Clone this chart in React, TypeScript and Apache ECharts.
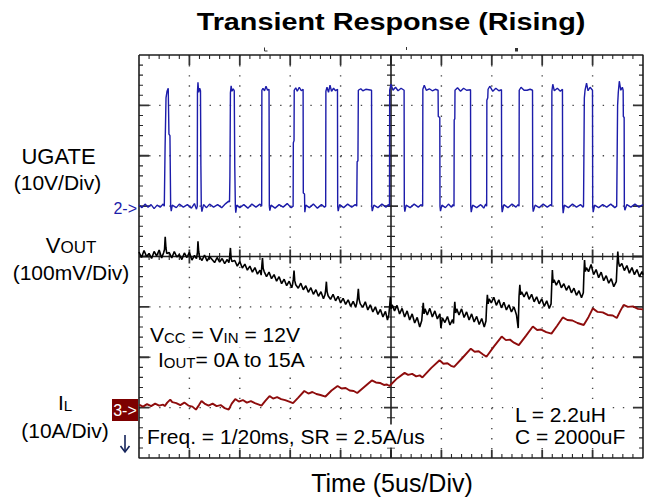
import React, { useEffect, useRef } from "react";
import * as echarts from "echarts";

// ---------- chart data ----------
// Time axis (us), trigger at the centre of the screen, 5 us per division
const timeMin = -25;
const timeMax = 25;
const timeStep = 5;
// Vertical graticule in divisions
const divMin = -4;
const divMax = 4;
const majorTimeTicks = [-25, -20, -15, -10, -5, 0, 5, 10, 15, 20, 25];
const majorDivTicks = [-4, -3, -2, -1, 0, 1, 2, 3, 4];
const minorPerMajor = 5;

// Channel scales: units per division and ground-marker position (in divisions)
const ugatePerDiv = 10; // V
const ugateZeroDiv = 1;
const voutPerDiv = 100; // mV (AC coupled, centred)
const voutZeroDiv = 0;
const ilPerDiv = 10; // A
const ilZeroDiv = -3;

// Channel 2 : UGATE (us, V)
const ugate: [number, number][] = [
  [-25.0, 0.2], [-24.7, -0.3], [-24.4, 0.4], [-24.1, -0.2], [-23.8, 0.3], [-23.5, -0.5], [-23.2, 0.2], [-22.9, -0.2], [-22.6, 0.4],
  [-22.49, 0.0], [-22.41, 12.0], [-22.32, 21.5], [-22.22, 22.8], [-22.1, 23.4], [-22.03, 14.3], [-21.93, 14.0], [-21.86, 0.0], [-21.8, -1.0], [-21.7, 0.2],
  [-21.3, -0.3], [-21.0, 0.4], [-20.6, -0.2], [-20.2, 0.3], [-19.8, -0.4], [-19.5, 0.5], [-19.3, -0.6],
  [-19.22, 0.0], [-19.2, 22.6], [-19.15, 24.6], [-19.08, 22.6], [-18.98, 23.4], [-18.9, 22.9], [-18.86, 8.0], [-18.82, 0.0], [-18.76, -1.1], [-18.6, 0.3],
  [-18.3, -0.3], [-18.0, 0.4], [-17.6, -0.2], [-17.2, 0.3], [-16.8, -0.3], [-16.4, 0.5], [-16.1, 1.0],
  [-16.02, 0.8], [-15.98, 6.0], [-15.93, 22.5], [-15.86, 23.9], [-15.78, 22.8], [-15.65, 23.3], [-15.55, 22.9], [-15.5, 8.0], [-15.44, 0.0], [-15.4, -1.3], [-15.3, 0.2],
  [-15.0, -0.3], [-14.6, 0.3], [-14.2, -0.4], [-13.8, 0.4], [-13.4, -0.2], [-13.0, 0.4],
  [-12.83, 0.0], [-12.81, 23.0], [-12.7, 23.4], [-12.55, 22.9], [-12.4, 23.8], [-12.25, 23.0], [-12.1, 23.2], [-12.07, 0.0], [-12.02, -0.9], [-11.9, 0.2],
  [-11.5, -0.4], [-11.1, 0.3], [-10.7, -0.2], [-10.3, 0.5], [-9.9, -0.3],
  [-9.71, 0.0], [-9.69, 12.6], [-9.62, 13.0], [-9.6, 23.0], [-9.45, 23.5], [-9.3, 22.8], [-9.1, 23.6], [-8.9, 22.9], [-8.72, 23.2], [-8.7, 2.6], [-8.58, 2.4], [-8.55, -1.2], [-8.45, 0.2],
  [-8.1, -0.3], [-7.7, 0.4], [-7.3, -0.4], [-6.9, 0.3], [-6.6, -0.2],
  [-6.48, 0.0], [-6.46, 22.8], [-6.35, 23.6], [-6.2, 22.6], [-6.05, 24.0], [-5.9, 22.8], [-5.7, 23.4], [-5.5, 22.9], [-5.31, 23.2], [-5.29, 0.0], [-5.24, -1.0], [-5.1, 0.3],
  [-4.7, -0.3], [-4.3, 0.4], [-3.9, -0.2], [-3.55, 0.3],
  [-3.4, 0.0], [-3.36, 8.8], [-3.28, 9.0], [-3.24, 23.0], [-3.0, 23.3], [-2.8, 22.9], [-2.5, 23.2], [-2.2, 23.1], [-1.93, 23.0], [-1.91, 0.0], [-1.86, -1.0], [-1.7, 0.2],
  [-1.3, -0.3], [-0.9, 0.4], [-0.5, -0.2], [-0.25, 0.3],
  [-0.15, 0.0], [-0.13, 23.0], [0.0, 24.2], [0.2, 23.0], [0.45, 23.6], [0.7, 22.9], [1.0, 23.4], [1.3, 23.0], [1.32, 0.0], [1.37, -1.1], [1.5, 0.2],
  [1.9, -0.3], [2.3, 0.4], [2.7, -0.2], [3.0, 0.3],
  [3.14, 0.0], [3.16, 23.2], [3.3, 24.0], [3.5, 23.0], [3.8, 23.3], [4.1, 22.9], [4.4, 23.2], [4.67, 23.0], [4.69, 17.8], [4.84, 17.6], [4.86, 0.0], [4.91, -1.0], [5.05, 0.2],
  [5.4, -0.3], [5.7, 0.4], [6.0, -0.2], [6.15, 0.3],
  [6.25, 0.0], [6.27, 17.1], [6.33, 17.3], [6.35, 23.0], [6.6, 23.5], [6.9, 22.8], [7.2, 23.4], [7.5, 23.0], [7.89, 23.1], [7.91, 0.0], [7.96, -1.2], [8.1, 0.2],
  [8.5, -0.3], [8.9, 0.3], [9.2, -0.4], [9.4, 0.4],
  [9.49, 0.0], [9.51, 21.0], [9.6, 21.5], [9.63, 23.2], [9.8, 23.8], [10.1, 22.8], [10.4, 23.4], [10.7, 22.9], [10.96, 23.1], [10.98, 0.0], [11.03, -1.2], [11.2, 0.3],
  [11.6, -0.3], [12.0, 0.4], [12.4, -0.2], [12.6, 0.3],
  [12.7, 0.0], [12.72, 23.0], [12.9, 23.6], [13.2, 23.0], [13.5, 23.0], [13.8, 23.2], [14.04, 23.0], [14.06, 0.0], [14.11, -1.1], [14.3, 0.2],
  [14.7, -0.3], [15.1, 0.4], [15.5, -0.2], [15.85, 0.3],
  [15.94, 0.0], [15.96, 22.8], [16.05, 24.2], [16.2, 22.9], [16.5, 23.4], [16.8, 22.8], [17.01, 23.2], [17.03, 0.0], [17.08, -1.4], [17.2, 0.2],
  [17.6, -0.3], [18.0, 0.4], [18.4, -0.2], [18.8, 0.3], [19.05, -0.2],
  [19.1, 0.0], [19.18, 21.5], [19.25, 23.0], [19.4, 24.4], [19.55, 22.9], [19.75, 23.6], [19.99, 23.0], [20.01, 0.0], [20.06, -1.2], [20.2, 0.2],
  [20.6, -0.3], [21.0, 0.3], [21.4, -0.2], [21.8, 0.4], [22.2, -0.3],
  [22.39, 0.0], [22.48, 20.0], [22.55, 22.6], [22.65, 24.8], [22.8, 23.0], [22.95, 23.6], [23.03, 23.0], [23.05, 17.8], [23.13, 17.6], [23.15, 0.0], [23.2, -0.8], [23.4, 0.3],
  [23.8, -0.2], [24.2, 0.4], [24.6, -0.2], [25.0, 0.3],
];

// Channel 1 : VOUT deviation (us, mV)
const vout: [number, number][] = [
  [-25.0, 9], [-24.75, -2], [-24.5, 12], [-24.25, 0], [-24.0, 6], [-23.75, -4], [-23.5, 10], [-23.25, 1], [-23.0, 13], [-22.75, -3], [-22.55, 8],
  [-22.47, 14], [-22.4, 39], [-22.33, 18], [-22.25, 6],
  [-22.0, 8], [-21.75, -3], [-21.5, 10], [-21.25, -1], [-21.0, 4], [-20.75, -6], [-20.5, 7], [-20.25, -2], [-20.0, 8], [-19.75, -7], [-19.5, 2], [-19.3, -4],
  [-19.2, 8], [-19.15, 30], [-19.08, 10], [-19.0, -1],
  [-18.75, -8], [-18.5, 3], [-18.25, -9], [-18.0, 0], [-17.75, -6], [-17.5, -12], [-17.25, -2], [-17.0, -11], [-16.75, -4], [-16.5, -14], [-16.25, -6], [-16.08, -12],
  [-16.0, 0], [-15.93, 17], [-15.86, -4], [-15.78, -10],
  [-15.5, -8], [-15.25, -19], [-15.0, -10], [-14.75, -23], [-14.5, -15], [-14.25, -27], [-14.0, -19], [-13.75, -31], [-13.5, -22], [-13.25, -35], [-13.0, -27], [-12.88, -37],
  [-12.82, -20], [-12.75, -3], [-12.68, -24], [-12.58, -30],
  [-12.35, -40], [-12.1, -31], [-11.85, -44], [-11.6, -36], [-11.35, -49], [-11.1, -40], [-10.85, -54], [-10.6, -45], [-10.35, -58], [-10.1, -49], [-9.85, -62], [-9.76, -55],
  [-9.69, -45], [-9.62, -28], [-9.55, -48], [-9.45, -56],
  [-9.2, -63], [-8.95, -53], [-8.7, -66], [-8.45, -58], [-8.2, -71], [-7.95, -62], [-7.7, -75], [-7.45, -66], [-7.2, -79], [-6.95, -70], [-6.7, -84], [-6.55, -76],
  [-6.48, -66], [-6.41, -50], [-6.34, -70], [-6.24, -78],
  [-6.0, -85], [-5.75, -75], [-5.5, -88], [-5.25, -79], [-5.0, -92], [-4.75, -83], [-4.5, -95], [-4.25, -86], [-4.0, -99], [-3.75, -89], [-3.5, -101], [-3.4, -93],
  [-3.32, -82], [-3.24, -64], [-3.16, -86], [-3.05, -94],
  [-2.8, -101], [-2.55, -90], [-2.3, -106], [-2.05, -96], [-1.8, -110], [-1.55, -100], [-1.3, -115], [-1.05, -105], [-0.8, -120], [-0.55, -109], [-0.35, -126], [-0.22, -116],
  [-0.14, -100], [-0.06, -80], [0.02, -104], [0.12, -96],
  [0.35, -108], [0.6, -97], [0.85, -114], [1.1, -103], [1.35, -120], [1.6, -108], [1.85, -126], [2.1, -114], [2.35, -132], [2.6, -121], [2.85, -140], [3.05, -127],
  [3.12, -110], [3.2, -92], [3.28, -114], [3.38, -104],
  [3.6, -116], [3.85, -103], [4.1, -120], [4.35, -108], [4.6, -124], [4.85, -114], [4.95, -142], [5.1, -122], [5.35, -131], [5.6, -119], [5.85, -136], [6.1, -125], [6.2, -133],
  [6.26, -108], [6.33, -90], [6.41, -112], [6.52, -104],
  [6.75, -116], [7.0, -104], [7.25, -121], [7.5, -110], [7.75, -126], [8.0, -114], [8.25, -130], [8.5, -119], [8.75, -135], [9.0, -123], [9.25, -140], [9.42, -128],
  [9.48, -100], [9.56, -76], [9.64, -94], [9.74, -84],
  [9.95, -92], [10.2, -81], [10.45, -97], [10.7, -86], [10.95, -102], [11.2, -91], [11.45, -106], [11.7, -96], [11.95, -110], [12.2, -100], [12.45, -116], [12.62, -142],
  [12.7, -80], [12.78, -56], [12.86, -76], [12.96, -70],
  [13.2, -80], [13.45, -70], [13.7, -85], [13.95, -75], [14.2, -90], [14.45, -80], [14.7, -94], [14.95, -84], [15.2, -99], [15.45, -88], [15.7, -103], [15.88, -94],
  [15.94, -60], [16.01, -27], [16.08, -52], [16.18, -46],
  [16.4, -57], [16.65, -47], [16.9, -62], [17.15, -54], [17.4, -67], [17.65, -58], [17.9, -72], [18.15, -63], [18.4, -77], [18.65, -68], [18.9, -82], [19.08, -72],
  [19.13, -40], [19.2, -7], [19.28, -30], [19.38, -22],
  [19.6, -30], [19.85, -16], [20.1, -36], [20.35, -26], [20.6, -42], [20.85, -31], [21.1, -48], [21.35, -38], [21.6, -53], [21.85, -44], [22.1, -60], [22.35, -50],
  [22.42, -20], [22.5, 10], [22.58, -12], [22.68, -20],
  [22.9, -14], [23.15, -28], [23.4, -18], [23.65, -33], [23.9, -22], [24.15, -36], [24.4, -26], [24.65, -40], [24.9, -30], [25.0, -36],
];

// Channel 3 : inductor current IL (us, A)
const il: [number, number][] = [
  [-25.0, 0.6], [-24.6, 0.2], [-24.2, 0.7], [-23.8, 0.3], [-23.4, 0.8], [-23.0, 0.4], [-22.6, 0.6], [-22.45, 0.3],
  [-22.2, 1.0], [-21.9, 1.6], [-21.7, 1.1],
  [-21.3, 0.9], [-20.9, 0.5], [-20.5, 1.0], [-20.1, 0.4], [-19.7, 0.2], [-19.35, -0.4],
  [-19.05, 0.5], [-18.8, 1.3],
  [-18.5, 0.8], [-18.1, 0.4], [-17.7, 0.8], [-17.3, 0.3], [-16.9, 0.5], [-16.5, -0.1], [-16.1, -0.4],
  [-15.8, 0.8], [-15.45, 1.7],
  [-15.1, 1.2], [-14.7, 1.5], [-14.3, 1.0], [-13.9, 1.3], [-13.5, 0.9], [-13.1, 0.6], [-12.85, 0.4],
  [-12.45, 1.4], [-12.05, 2.3],
  [-11.7, 1.8], [-11.3, 2.1], [-10.9, 1.7], [-10.5, 1.5], [-10.1, 1.2], [-9.72, 0.9],
  [-9.2, 2.0], [-8.6, 3.3],
  [-8.2, 2.8], [-7.8, 3.1], [-7.4, 2.7], [-7.0, 2.5], [-6.5, 2.2],
  [-5.9, 3.4], [-5.3, 4.3],
  [-4.9, 3.8], [-4.5, 3.9], [-4.1, 3.4], [-3.7, 3.3], [-3.35, 2.9],
  [-2.6, 4.2], [-1.9, 5.4],
  [-1.5, 5.0], [-1.1, 4.9], [-0.7, 4.5], [-0.4, 4.6], [-0.15, 4.3],
  [0.6, 5.8], [1.35, 6.9],
  [1.7, 6.5], [2.1, 6.7], [2.5, 6.2], [2.85, 6.4], [3.12, 6.0],
  [4.0, 7.9], [4.82, 9.4],
  [5.2, 8.7], [5.6, 8.8], [5.95, 8.3], [6.26, 8.1],
  [7.1, 9.9], [7.92, 11.7],
  [8.3, 11.1], [8.7, 11.2], [9.1, 10.6], [9.47, 10.1],
  [10.2, 12.1], [10.98, 14.1],
  [11.4, 13.4], [11.8, 13.5], [12.2, 12.9], [12.68, 12.4],
  [13.4, 14.3], [14.07, 16.1],
  [14.5, 15.4], [14.9, 15.5], [15.4, 15.0], [15.92, 14.7],
  [16.5, 16.3], [17.04, 17.9],
  [17.5, 17.4], [18.0, 17.3], [18.5, 16.8], [19.12, 16.4],
  [19.6, 18.0], [20.02, 19.7],
  [20.5, 19.0], [21.0, 18.9], [21.5, 18.4], [22.0, 18.3], [22.4, 17.8],
  [22.75, 19.2], [23.08, 20.4],
  [23.5, 20.0], [24.0, 20.1], [24.5, 19.6], [25.0, 19.5],
];

// ---------- texts ----------
const titleText = "Transient Response (Rising)";
const xAxisTitle = "Time (5us/Div)";
const ch2Name = "UGATE";
const ch2Scale = "(10V/Div)";
const ch1Scale = "(100mV/Div)";
const ch3Scale = "(10A/Div)";
const noteFreq = "Freq. = 1/20ms, SR = 2.5A/us";
const noteL = "L = 2.2uH";
const noteC = "C = 2000uF";

const FONT = '"Liberation Sans", Arial, Helvetica, sans-serif';
const BLUE = "#1c1caa";
const RED = "#8e0c0c";
const FRAME = "#1e1e1e";
const GAP: any = ["-", "-"];

const subdivide = (majors: number[]) => {
  const out: number[] = [];
  for (let i = 0; i < majors.length - 1; i++) {
    for (let k = 1; k < minorPerMajor; k++) {
      out.push(majors[i] + ((majors[i + 1] - majors[i]) * k) / minorPerMajor);
    }
  }
  return out;
};

// Graticule segments in data units (time, div); ux / uy = data units per pixel
function graticuleData(ux: number, uy: number) {
  const minorTime = subdivide(majorTimeTicks);
  const minorDiv = subdivide(majorDivTicks);
  const interiorT = majorTimeTicks.filter((t) => t !== timeMin && t !== timeMax && t !== 0);
  const interiorD = majorDivTicks.filter((d) => d !== divMin && d !== divMax && d !== 0);
  const minor: any[] = [];
  const major: any[] = [];
  const dots: any[] = [];
  const add = (arr: any[], a: number[], b: number[]) => arr.push(a, b, GAP);

  minorTime.forEach((t) => {
    add(minor, [t, divMax], [t, divMax - 4 * uy]);
    add(minor, [t, divMin], [t, divMin + 4 * uy]);
    add(minor, [t, -3.5 * uy], [t, 3.5 * uy]);
  });
  minorDiv.forEach((d) => {
    add(minor, [timeMin, d], [timeMin + 4 * ux, d]);
    add(minor, [timeMax, d], [timeMax - 4 * ux, d]);
    add(minor, [-4 * ux, d], [4 * ux, d]);
  });
  interiorT.concat([0]).forEach((t) => {
    add(major, [t, divMax], [t, divMax - 10 * uy]);
    add(major, [t, divMin], [t, divMin + 8 * uy]);
    if (t !== 0) add(major, [t, -7 * uy], [t, 7 * uy]);
  });
  interiorD.concat([0]).forEach((d) => {
    add(major, [timeMin, d], [timeMin + 10 * ux, d]);
    add(major, [timeMax, d], [timeMax - 10 * ux, d]);
    if (d !== 0) add(major, [-7 * ux, d], [7 * ux, d]);
  });
  interiorT.forEach((t) => add(dots, [t, divMax], [t, divMin]));
  interiorD.forEach((d) => add(dots, [timeMin, d], [timeMax, d]));
  const frame: any[] = [
    [timeMin, divMax], [timeMax, divMax], [timeMax, divMin], [timeMin, divMin], [timeMin, divMax], GAP,
    [timeMin, 0], [timeMax, 0], GAP,
    [0, divMax], [0, divMin],
  ];
  return { minor, major, dots, frame };
}

export default function App() {
  const ref = useRef<HTMLDivElement>(null);

  useEffect(() => {
    if (!ref.current) return;
    const chart = echarts.init(ref.current, undefined, { renderer: "svg" });

    const channelAxis = (perDiv: number, zeroDiv: number) => ({
      type: "value",
      show: false,
      min: (divMin - zeroDiv) * perDiv,
      max: (divMax - zeroDiv) * perDiv,
      interval: perDiv,
      splitLine: { show: false },
    });

    const line = (name: string, data: any[], yAxisIndex: number, color: string, width: number, z: number, extra: any = {}) => ({
      type: "line",
      name,
      data,
      xAxisIndex: 0,
      yAxisIndex,
      showSymbol: false,
      symbol: "none",
      silent: true,
      connectNulls: false,
      clip: false,
      z,
      lineStyle: { color, width, ...extra },
    });

    const rich = {
      b: { fontSize: 21, fontFamily: FONT, color: "#000", verticalAlign: "bottom" },
      s: { fontSize: 15, fontFamily: FONT, color: "#000", verticalAlign: "bottom" },
      vb: { fontSize: 22, fontFamily: FONT, color: "#000", verticalAlign: "bottom" },
      vs: { fontSize: 17, fontFamily: FONT, color: "#000", verticalAlign: "bottom" },
    };

    const plain = (text: string, x: number, y: number, size: number, align = "center", extra: any = {}) => ({
      type: "text",
      x,
      y,
      z: 100,
      style: {
        text,
        font: `${size}px ${FONT}`,
        fill: "#000",
        textAlign: align,
        textVerticalAlign: "middle",
        ...extra,
      },
    });

    const note = (text: string, x: number, y: number, richText = false) => ({
      type: "text",
      x,
      y,
      z: 100,
      style: {
        text,
        font: `21px ${FONT}`,
        fill: "#000",
        textAlign: "left",
        textVerticalAlign: "middle",
        backgroundColor: "#fff",
        padding: [1, 2, 1, 2],
        ...(richText ? { rich } : {}),
      },
    });

    const labels: any[] = [
      {
        type: "text", x: 391, y: 22, z: 100, scaleX: 1.2,
        style: { text: titleText, font: `bold 24px ${FONT}`, fill: "#000", textAlign: "center", textVerticalAlign: "middle" },
      },
      plain(ch2Name, 58.5, 156, 22),
      plain(ch2Scale, 57.5, 182.5, 21),
      {
        type: "text", x: 71, y: 245, z: 100,
        style: { text: "{vb|V}{vs|OUT}", rich, textAlign: "center", textVerticalAlign: "middle", font: `22px ${FONT}` },
      },
      plain(ch1Scale, 71, 272.5, 21),
      {
        type: "text", x: 65, y: 402, z: 100,
        style: { text: "{b|I}{s|L}", rich, textAlign: "center", textVerticalAlign: "middle", font: `21px ${FONT}` },
      },
      plain(ch3Scale, 65, 430, 21),
      plain("2->", 137, 208, 16, "right", { fill: BLUE }),
      { type: "rect", z: 100, shape: { x: 112, y: 399, width: 26, height: 22 }, style: { fill: "#7d0000" } },
      plain("3->", 125, 410, 16, "center", { fill: "#fff" }),
      { type: "line", z: 100, shape: { x1: 125, y1: 435, x2: 125, y2: 452 }, style: { stroke: "#14235a", lineWidth: 1.6 } },
      { type: "polyline", z: 100, shape: { points: [[120.5, 446], [125, 452], [129.5, 446]] }, style: { stroke: "#14235a", lineWidth: 1.6, fill: null } },
      { type: "polyline", z: 100, shape: { points: [[264.5, 47.5], [264.5, 51], [267.5, 51]] }, style: { stroke: "#333", lineWidth: 1, fill: null } },
      { type: "line", z: 100, shape: { x1: 406.5, y1: 47, x2: 406.5, y2: 50 }, style: { stroke: "#333", lineWidth: 1 } },
      { type: "rect", z: 100, shape: { x: 515, y: 48, width: 3, height: 3.5 }, style: { fill: "#333" } },
      note("{b|V}{s|CC}{b| = V}{s|IN}{b| = 12V}", 148, 334, true),
      note("{b|I}{s|OUT}{b|= 0A to 15A}", 156, 359, true),
      note(noteFreq, 145, 436),
      note(noteL, 513, 414),
      note(noteC, 513, 436),
      plain(xAxisTitle, 392, 483, 25),
    ];

    const traces = [
      line("IL", il, 2, RED, 1.9, 3),
      line("VOUT", vout, 1, "#000", 1.6, 4),
      line("UGATE", ugate, 0, BLUE, 1.4, 5),
    ];

    const option: any = {
      animation: false,
      backgroundColor: "#fff",
      grid: { left: 139, right: 9, top: 55, bottom: 39, containLabel: false },
      xAxis: [{ type: "value", show: false, min: timeMin, max: timeMax, interval: timeStep, splitLine: { show: false } }],
      yAxis: [
        channelAxis(ugatePerDiv, ugateZeroDiv),
        channelAxis(voutPerDiv, voutZeroDiv),
        channelAxis(ilPerDiv, ilZeroDiv),
        { type: "value", show: false, min: divMin, max: divMax, interval: 1, splitLine: { show: false } },
      ],
      series: traces,
      graphic: labels,
    };

    chart.setOption(option);

    // data units per pixel
    const p0 = chart.convertToPixel({ xAxisIndex: 0, yAxisIndex: 3 }, [timeMin, divMin]) as number[];
    const p1 = chart.convertToPixel({ xAxisIndex: 0, yAxisIndex: 3 }, [timeMax, divMax]) as number[];
    const ux = (timeMax - timeMin) / Math.abs(p1[0] - p0[0]);
    const uy = (divMax - divMin) / Math.abs(p0[1] - p1[1]);
    const g = graticuleData(ux, uy);

    chart.setOption({
      series: [
        ...traces,
        line("gridDots", g.dots, 3, "#4a4a4a", 1.4, 1, { type: [1.4, 8.68], cap: "butt" }),
        line("minorTicks", g.minor, 3, "#2a2a2a", 1.1, 2),
        line("majorTicks", g.major, 3, "#333333", 1.8, 2),
        line("frame", g.frame, 3, FRAME, 1.6, 2),
      ],
    });

    return () => chart.dispose();
  }, []);

  return (
    <div
      ref={ref}
      style={{ position: "absolute", left: 0, top: 0, width: 652, height: 497, background: "#fff" }}
    />
  );
}
